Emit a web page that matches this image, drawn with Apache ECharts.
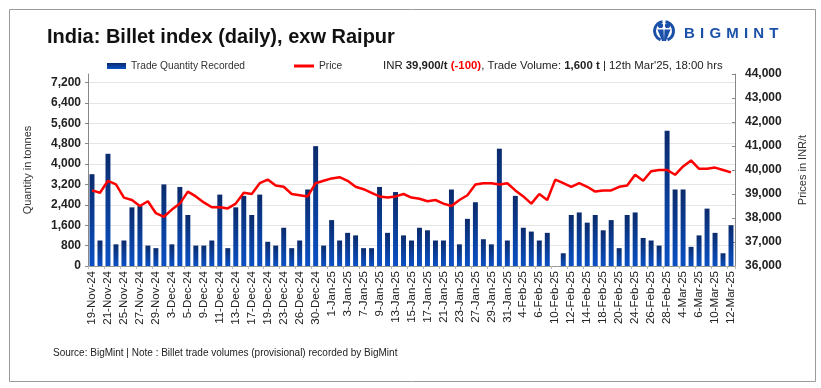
<!DOCTYPE html>
<html><head><meta charset="utf-8">
<script src="https://cdn.jsdelivr.net/npm/echarts@6/dist/echarts.min.js"></script>
<style>html,body{margin:0;padding:0;background:#fff}#c{width:821px;height:388px}</style>
</head><body><div id="c"></div>
<script>
const categories = ['19-Nov-24','20-Nov-24','21-Nov-24','22-Nov-24','25-Nov-24','26-Nov-24','27-Nov-24','28-Nov-24','29-Nov-24','2-Dec-24',
'3-Dec-24','4-Dec-24','5-Dec-24','6-Dec-24','9-Dec-24','10-Dec-24','11-Dec-24','12-Dec-24','13-Dec-24','16-Dec-24',
'17-Dec-24','18-Dec-24','19-Dec-24','20-Dec-24','23-Dec-24','24-Dec-24','26-Dec-24','27-Dec-24','30-Dec-24','31-Dec-24',
'1-Jan-25','2-Jan-25','3-Jan-25','6-Jan-25','7-Jan-25','8-Jan-25','9-Jan-25','10-Jan-25','13-Jan-25','14-Jan-25',
'15-Jan-25','16-Jan-25','17-Jan-25','20-Jan-25','21-Jan-25','22-Jan-25','23-Jan-25','24-Jan-25','27-Jan-25','28-Jan-25',
'29-Jan-25','30-Jan-25','31-Jan-25','3-Feb-25','4-Feb-25','5-Feb-25','6-Feb-25','7-Feb-25','10-Feb-25','11-Feb-25',
'12-Feb-25','13-Feb-25','14-Feb-25','17-Feb-25','18-Feb-25','19-Feb-25','20-Feb-25','21-Feb-25','24-Feb-25','25-Feb-25',
'26-Feb-25','27-Feb-25','28-Feb-25','3-Mar-25','4-Mar-25','5-Mar-25','6-Mar-25','7-Mar-25','10-Mar-25','11-Mar-25','12-Mar-25'];

const quantity = [3600,1000,4400,850,1000,2300,2350,800,700,3200,
850,3100,2000,800,800,1000,2800,700,2300,2750,
2000,2800,950,800,1500,700,1000,3000,4700,800,
1800,1000,1300,1200,700,700,3100,1300,2900,1200,
1000,1500,1400,1000,1000,3000,850,1850,2500,1050,
850,4600,1000,2750,1500,1350,1000,1300,0,500,
2000,2100,1700,2000,1400,1800,700,2000,2100,1100,
1000,800,5300,3000,3000,750,1200,2250,1300,500,1600];

const price = [39150,39050,39550,39400,38850,38750,38500,38700,38200,38050,
38350,38600,39100,38900,38650,38450,38450,38400,38600,39050,
39000,39450,39600,39350,39300,39000,38950,38900,39450,39550,
39650,39700,39550,39300,39200,39050,38900,38850,38900,39000,
38850,38800,38700,38750,38600,38500,38750,38950,39400,39450,
39450,39400,39450,39150,38900,38600,39000,38750,39600,39450,
39300,39450,39300,39100,39150,39150,39300,39350,39800,39550,
39950,40000,40000,39800,40150,40400,40050,40050,40100,40000,39900];

const qtyTicks = {min:0, max:7529, interval:800};
const priceTicks = {min:36000, max:44000, interval:1000};

const FONT = 'Liberation Sans, Arial, sans-serif';
const chart = echarts.init(document.getElementById('c'), null, {renderer:'canvas'});
const fmt = v => v.toLocaleString('en-US');

// logo letters laid out with extra spacing
const mctx = document.createElement('canvas').getContext('2d');
mctx.font = 'bold 15px ' + FONT;
const logoEls = [];
let lx = 684;
'BIGMINT'.split('').forEach(ch => {
  logoEls.push({type:'text', x:lx, y:26, style:{text:ch, fill:'#1b50a8', font:'bold 15px '+FONT}});
  lx += mctx.measureText(ch).width + 5.2;
});

chart.setOption({
  animation:false,
  textStyle:{fontFamily:FONT},
  grid:{left:88, right:86, top:74, bottom:122, containLabel:false},
  legend:[
    {data:['Trade Quantity Recorded'], left:102, top:56, itemWidth:19, itemHeight:6, icon:'rect',
     textStyle:{fontSize:10.2, color:'#333', fontFamily:FONT}},
    {data:['Price'], left:289, top:56, itemWidth:20, itemHeight:3, icon:'rect',
     textStyle:{fontSize:10.2, color:'#333', fontFamily:FONT}}
  ],
  xAxis:{type:'category', data:categories,
    axisLine:{lineStyle:{color:'#999'}},
    axisTick:{show:true, alignWithLabel:false, lineStyle:{color:'#bbb'}, length:3},
    axisLabel:{rotate:90, interval:1, fontSize:11.5, color:'#222', margin:5, fontFamily:FONT}},
  yAxis:[
    {type:'value', min:qtyTicks.min, max:qtyTicks.max, interval:qtyTicks.interval, position:'left',
     name:'Quantity in tonnes', nameLocation:'middle', nameGap:55, nameRotate:90,
     nameTextStyle:{fontSize:11, color:'#333', fontFamily:FONT},
     axisLine:{show:true, lineStyle:{color:'#888'}}, axisTick:{show:true, length:3, lineStyle:{color:'#888'}},
     axisLabel:{fontSize:12, fontWeight:'bold', color:'#222', margin:7, showMaxLabel:false,
       formatter:v=> (v % qtyTicks.interval===0 ? fmt(v) : '')},
     splitLine:{show:true, showMaxLine:false, lineStyle:{color:'#e5e5e5'}}},
    {type:'value', min:priceTicks.min, max:priceTicks.max, interval:priceTicks.interval, position:'right',
     name:'Prices in INR/t', nameLocation:'middle', nameGap:62, nameRotate:90,
     nameTextStyle:{fontSize:11, color:'#333', fontFamily:FONT},
     axisLine:{show:true, lineStyle:{color:'#888'}}, axisTick:{show:true, inside:true, length:3, lineStyle:{color:'#888'}},
     axisLabel:{fontSize:12, fontWeight:'bold', color:'#222', margin:10, formatter:v=>fmt(v)},
     splitLine:{show:false}}
  ],
  series:[
    {name:'Trade Quantity Recorded', type:'bar', data:quantity, yAxisIndex:0, barWidth:'62%',
     itemStyle:{color:new echarts.graphic.LinearGradient(0,0,0,1,[{offset:0,color:'#0b2b6c'},{offset:1,color:'#0a50c4'}])}},
    {name:'Price', type:'line', data:price, yAxisIndex:1, symbol:'none', smooth:false,
     lineStyle:{color:'#ff0000', width:2.5}, itemStyle:{color:'#ff0000'}}
  ],
  graphic:[
    {type:'rect', left:7, top:7, shape:{width:806, height:372}, style:{fill:'none', stroke:'#9a9a9a', lineWidth:1}, z:-1},
    {type:'text', left:47, top:27, style:{text:'India: Billet index (daily), exw Raipur', fill:'#111', font:'bold 20px '+FONT}},
    {type:'text', left:383, top:60, style:{
      text:'INR {b|39,900/t} {r|(-100)}, Trade Volume: {b|1,600 t} | 12th Mar\'25, 18:00 hrs',
      fill:'#222', font:'11.4px '+FONT,
      rich:{b:{fontWeight:'bold', fontSize:11.4, fill:'#222', fontFamily:FONT}, r:{fontWeight:'bold', fontSize:11.4, fill:'#ff0000', fontFamily:FONT}}}},
    {type:'text', left:53, top:348, style:{text:'Source: BigMint | Note : Billet trade volumes (provisional) recorded by BigMint', fill:'#222', font:'10px '+FONT}},
    // logo icon
    {type:'arc', shape:{cx:664, cy:31, r:9.5, startAngle:Math.PI*0.62, endAngle:Math.PI*1.45}, style:{fill:'none', stroke:'#1b50a8', lineWidth:3}},
    {type:'arc', shape:{cx:664, cy:31, r:9.5, startAngle:Math.PI*1.55, endAngle:Math.PI*2.38}, style:{fill:'none', stroke:'#1b50a8', lineWidth:3}},
    {type:'circle', shape:{cx:660.5, cy:25.5, r:2.6}, style:{fill:'#1b50a8'}},
    {type:'circle', shape:{cx:667.5, cy:25.5, r:2.6}, style:{fill:'#1b50a8'}},
    {type:'polygon', shape:{points:[[657.5,29.5],[663.5,29.5],[664,41],[662,41]]}, style:{fill:'#1b50a8'}},
    {type:'polygon', shape:{points:[[664.5,29.5],[670.5,29.5],[666,41],[664,41]]}, style:{fill:'#1b50a8'}},
    ...logoEls
  ]
});
</script></body></html>
